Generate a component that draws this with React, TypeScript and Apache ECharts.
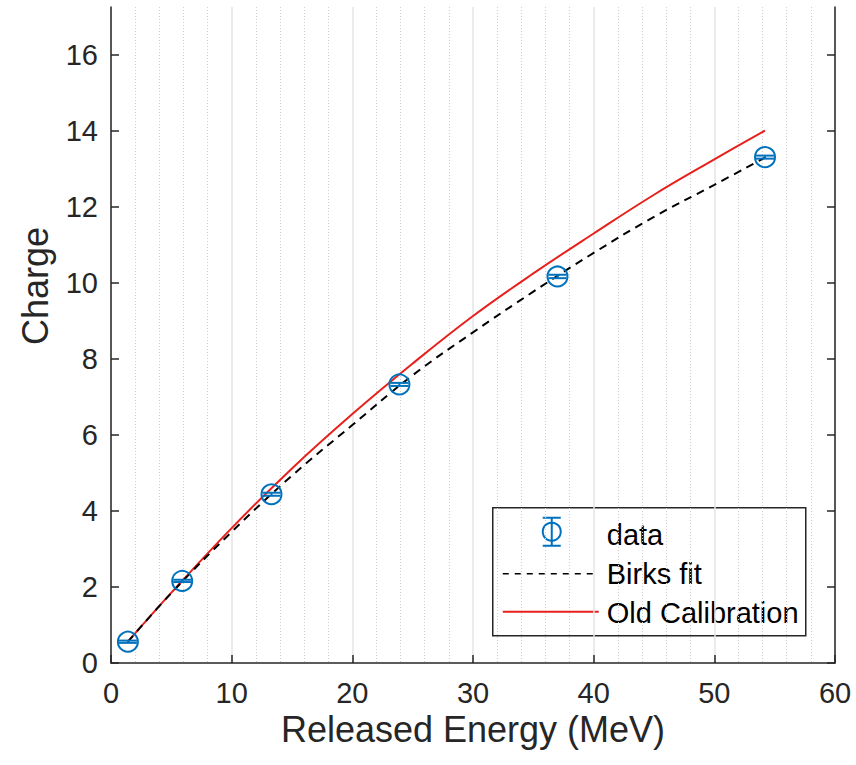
import React, { useEffect, useRef } from "react";
import * as echarts from "echarts";

// ---- data ----
const energy = [1.4, 5.9, 13.3, 23.9, 37.0, 54.2];
const charge = [0.56, 2.16, 4.44, 7.33, 10.17, 13.31];
const chargeErr = [0.03, 0.03, 0.04, 0.04, 0.045, 0.04];

const fitEnergy = [1.4, 5, 10, 15, 20, 25, 30, 35, 40, 45, 50, 54.2];
const birksFit = [0.56, 1.84, 3.45, 4.93, 6.26, 7.57, 8.7, 9.77, 10.79, 11.74, 12.58, 13.3];
const oldCalibration = [0.56, 1.85, 3.55, 5.12, 6.55, 7.88, 9.13, 10.25, 11.3, 12.32, 13.25, 14.01];

const yTickValues = [0, 2, 4, 6, 8, 10, 12, 14, 16];
const legendNames = ["data", "Birks fit", "Old Calibration"];
const xAxisTitle = "Released Energy (MeV)";
const yAxisTitle = "Charge";

const BLUE = "#0072BD";
const RED = "#e8201c";
const AXIS = "#262626";
const FONT = "'Liberation Sans', Arial, Helvetica, sans-serif";

export default function App() {
  const ref = useRef<HTMLDivElement>(null);

  useEffect(() => {
    if (!ref.current) return;
    const chart = echarts.init(ref.current, undefined, { renderer: "svg" });

    const pts = energy.map((e, i) => [e, charge[i], chargeErr[i]]);
    const birks = fitEnergy.map((e, i) => [e, birksFit[i]]);
    const oldCal = fitEnergy.map((e, i) => [e, oldCalibration[i]]);

    const tickLabelFont = 29;
    const axisNameFont = 36;
    const legendFont = 29;

    const yAxisCommon = {
      type: "value",
      min: 0,
      max: 17.26,
      splitLine: { show: false },
      axisLine: { show: true, lineStyle: { color: AXIS, width: 1.5 } },
      axisTick: {
        show: true,
        inside: true,
        length: 8,
        customValues: yTickValues,
        lineStyle: { color: AXIS, width: 1.5 },
      },
    };

    const option: any = {
      animation: false,
      backgroundColor: "#ffffff",
      grid: { left: 111, right: 21, top: 7, bottom: 102, containLabel: false },
      xAxis: {
        type: "value",
        min: 0,
        max: 60,
        interval: 10,
        name: xAxisTitle,
        nameLocation: "middle",
        nameGap: 48,
        nameMoveOverlap: false,
        nameTextStyle: { fontSize: axisNameFont, color: AXIS, fontFamily: FONT },
        axisLine: { show: true, onZero: false, lineStyle: { color: AXIS, width: 1.5 } },
        axisTick: { show: true, inside: true, length: 8, lineStyle: { color: AXIS, width: 1.5 } },
        axisLabel: { fontSize: tickLabelFont, color: AXIS, fontFamily: FONT, margin: 15 },
        splitLine: { show: true, lineStyle: { color: "#e4e4e4", width: 1.5 } },
        minorTick: { show: false, splitNumber: 5 },
        minorSplitLine: { show: true, lineStyle: { color: "#cfcfcf", width: 1, type: [1, 2] } },
      },
      yAxis: [
        {
          ...yAxisCommon,
          position: "left",
          axisLabel: {
            fontSize: tickLabelFont,
            color: AXIS,
            fontFamily: FONT,
            margin: 13,
            customValues: yTickValues,
          },
        },
        {
          ...yAxisCommon,
          position: "right",
          axisLabel: { show: false },
        },
      ],
      series: [
        {
          name: legendNames[2],
          type: "line",
          data: oldCal,
          showSymbol: false,
          smooth: 0.4,
          lineStyle: { color: RED, width: 2 },
          z: 3,
        },
        {
          name: legendNames[1],
          type: "line",
          data: birks,
          showSymbol: false,
          smooth: 0.4,
          lineStyle: { color: "#000000", width: 2, type: [8, 6] },
          z: 4,
        },
        {
          name: legendNames[0],
          type: "custom",
          data: pts,
          z: 5,
          renderItem: (params: any, api: any) => {
            const x = api.value(0);
            const y = api.value(1);
            const e = api.value(2);
            const c = api.coord([x, y]);
            const t = api.coord([x, y + e]);
            const b = api.coord([x, y - e]);
            const hw = 9;
            const st = { stroke: BLUE, lineWidth: 2, fill: "none" };
            return {
              type: "group",
              children: [
                { type: "line", shape: { x1: c[0], y1: t[1], x2: c[0], y2: b[1] }, style: st },
                { type: "line", shape: { x1: c[0] - hw, y1: t[1], x2: c[0] + hw, y2: t[1] }, style: st },
                { type: "line", shape: { x1: c[0] - hw, y1: b[1], x2: c[0] + hw, y2: b[1] }, style: st },
                { type: "circle", shape: { cx: c[0], cy: c[1], r: 10 }, style: st },
              ],
            };
          },
        },
      ],
      graphic: [
        {
          type: "text",
          x: 35,
          y: 286,
          rotation: Math.PI / 2,
          style: {
            text: yAxisTitle,
            font: `${axisNameFont}px ${FONT}`,
            fill: AXIS,
            align: "center",
            verticalAlign: "middle",
          },
        },
        {
          type: "group",
          left: 492,
          top: 507,
          children: [
            {
              type: "rect",
              shape: { x: 0, y: 0, width: 313, height: 128 },
              style: { fill: "#ffffff", stroke: AXIS, lineWidth: 1.5 },
            },
            // data icon
            { type: "line", shape: { x1: 59, y1: 10, x2: 59, y2: 38 }, style: { stroke: BLUE, lineWidth: 2 } },
            { type: "line", shape: { x1: 50, y1: 10, x2: 68, y2: 10 }, style: { stroke: BLUE, lineWidth: 2 } },
            { type: "line", shape: { x1: 50, y1: 38, x2: 68, y2: 38 }, style: { stroke: BLUE, lineWidth: 2 } },
            {
              type: "circle",
              shape: { cx: 59, cy: 24, r: 9 },
              style: { stroke: BLUE, lineWidth: 2, fill: "none" },
            },
            {
              type: "text",
              x: 114,
              y: 27,
              style: { text: legendNames[0], font: `${legendFont}px ${FONT}`, fill: "#000", verticalAlign: "middle" },
            },
            // birks icon
            {
              type: "line",
              shape: { x1: 10, y1: 66, x2: 106, y2: 66 },
              style: { stroke: "#000", lineWidth: 1.5, lineDash: [6, 6] },
            },
            {
              type: "text",
              x: 114,
              y: 66,
              style: { text: legendNames[1], font: `${legendFont}px ${FONT}`, fill: "#000", verticalAlign: "middle" },
            },
            // old calibration icon
            {
              type: "line",
              shape: { x1: 10, y1: 104, x2: 106, y2: 104 },
              style: { stroke: RED, lineWidth: 2 },
            },
            {
              type: "text",
              x: 114,
              y: 105,
              style: { text: legendNames[2], font: `${legendFont}px ${FONT}`, fill: "#000", verticalAlign: "middle" },
            },
          ],
        },
      ],
    };

    chart.setOption(option);
    return () => chart.dispose();
  }, []);

  return (
    <div
      ref={ref}
      style={{ position: "fixed", left: 0, top: 0, width: 856, height: 765, background: "#fff" }}
    />
  );
}
